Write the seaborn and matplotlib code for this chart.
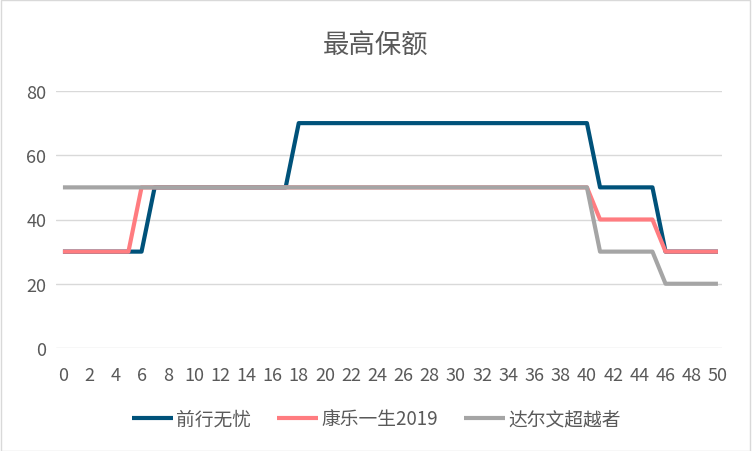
import matplotlib
matplotlib.use("Agg")
import matplotlib.pyplot as plt
import pandas as pd
import seaborn as sns

# ages 0..50
ages = list(range(51))
qianxing = [30] * 7 + [50] * 11 + [70] * 23 + [50] * 5 + [30] * 5
kangle = [30] * 6 + [50] * 35 + [40] * 5 + [30] * 5
daerwen = [50] * 41 + [30] * 5 + [20] * 5
series_names = ["前行无忧", "康乐一生2019", "达尔文超越者"]
colors = ["#00527A", "#FF7C80", "#A5A5A5"]
x_ticks = list(range(0, 51, 2))
y_ticks = [0, 20, 40, 60, 80]

df = pd.DataFrame({
    "age": ages * 3,
    "value": qianxing + kangle + daerwen,
    "plan": [series_names[0]] * 51 + [series_names[1]] * 51 + [series_names[2]] * 51,
})

sns.set_theme(style="white")
plt.rcParams["font.family"] = ["Noto Sans CJK SC", "DejaVu Sans"]

fig = plt.figure(figsize=(7.52, 4.52), dpi=100)
ax = fig.add_axes([56 / 752, 1 - 349 / 452, (722 - 56) / 752, (349 - 92) / 452])

sns.lineplot(data=df, x="age", y="value", hue="plan", hue_order=series_names,
             palette=colors, linewidth=3.0, ax=ax, legend=True)
for line in ax.get_lines():
    line.set_solid_joinstyle("round")
    line.set_solid_capstyle("butt")

ax.set_xlim(-0.53, 50.31)
ax.set_ylim(0, 80)
ax.set_xticks(x_ticks)
ax.set_yticks(y_ticks)
ax.set_xticklabels([str(t) for t in x_ticks])
ax.tick_params(axis="both", length=0, labelsize=13, labelcolor="#595959")
ax.tick_params(axis="x", pad=13)
ax.tick_params(axis="y", pad=7)
ax.grid(axis="y", color="#D9D9D9", linewidth=1)
ax.set_axisbelow(True)
for s in ax.spines.values():
    s.set_visible(False)
ax.set_xlabel("")
ax.set_ylabel("")

fig.text(0.5, 1 - 45 / 452, "最高保额", ha="center", va="center",
         fontsize=19, color="#595959")

handles, labels = ax.get_legend_handles_labels()
ax.legend_.remove()
fig.legend(handles, labels, loc="center", bbox_to_anchor=(0.5, 1 - 420 / 452),
           ncol=3, frameon=False, fontsize=13.5, handlelength=2.2,
           columnspacing=1.4, handletextpad=0.15, labelcolor="#595959")

fig.patches.append(plt.Rectangle((0.001, 0.001), 0.997, 0.997, transform=fig.transFigure,
                                 fill=False, edgecolor="#D9D9D9", linewidth=1))

fig.savefig("out.png", dpi=100)
